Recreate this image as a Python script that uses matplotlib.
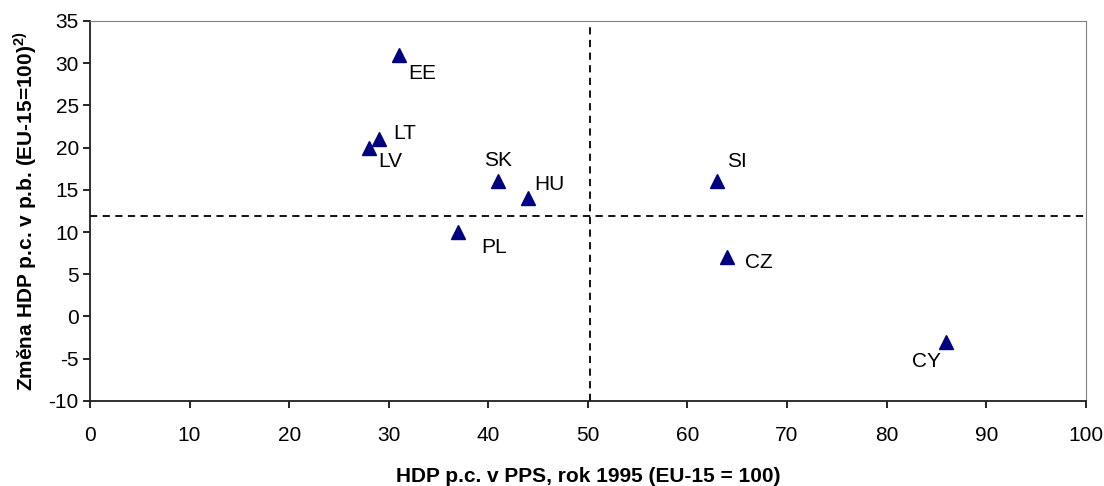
import matplotlib.pyplot as plt

plt.rcParams['font.family'] = ['Liberation Sans', 'DejaVu Sans']
plt.rcParams['axes.unicode_minus'] = False

# data
countries = ['EE', 'LT', 'LV', 'SK', 'HU', 'PL', 'SI', 'CZ', 'CY']
hdp_1995 = [31, 29, 28, 41, 44, 37, 63, 64, 86]
zmena = [31, 21, 20, 16, 14, 10, 16, 7, -3]
mean_x = 50.2
mean_y = 11.9

# label offsets in pixels (dx, dy)
offsets = {'EE': (24, -19), 'LT': (26, 6), 'LV': (21, -14), 'SK': (0, 21),
           'HU': (21, 14), 'PL': (36, -15), 'SI': (20, 20), 'CZ': (32, -5),
           'CY': (-20, -20)}

fig = plt.figure(figsize=(11.04, 4.86), dpi=100)
ax = fig.add_axes([0.0815, 0.175, 0.902, 0.782])

ax.plot(hdp_1995, zmena, linestyle='none', marker='^', markersize=10.5,
        color='#000080', zorder=3)
for c, x, y in zip(countries, hdp_1995, zmena):
    dx, dy = offsets[c]
    ax.annotate(c, (x, y), xytext=(dx, dy), textcoords='offset pixels',
                ha='center', va='center', fontsize=15)

ax.axvline(mean_x, color='k', linewidth=1.3, linestyle=(0, (4, 3)))
ax.axhline(mean_y, color='k', linewidth=1.3, linestyle=(0, (4, 3)))

ax.set_xlim(0, 100)
ax.set_ylim(-10, 35)
ax.set_xticks(range(0, 101, 10))
ax.set_yticks(range(-10, 36, 5))
ax.tick_params(direction='out', length=5, labelsize=15, width=1.2)
ax.tick_params(axis='x', pad=13)
ax.tick_params(axis='y', pad=3)
for s in ['top', 'right']:
    ax.spines[s].set_color('#808080')
for s in ['left', 'bottom']:
    ax.spines[s].set_color('#202020')
    ax.spines[s].set_linewidth(1.3)

ax.set_xlabel('HDP p.c. v PPS, rok 1995 (EU-15 = 100)', fontsize=15,
              fontweight='bold', labelpad=16)
ax.set_ylabel(r'Změna HDP p.c. v p.b. (EU-15=100)$^{\mathregular{2)}}$',
              fontsize=15, fontweight='bold', labelpad=7)

fig.savefig('out.png', dpi=100)
